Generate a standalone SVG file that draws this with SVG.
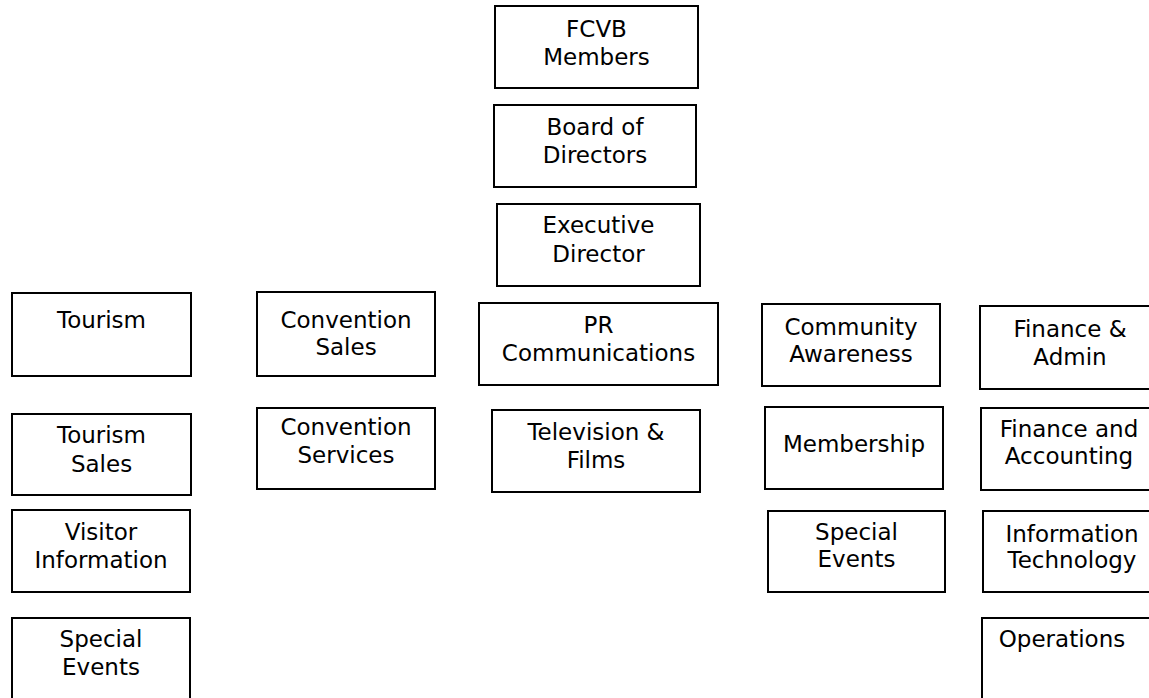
<svg xmlns="http://www.w3.org/2000/svg" width="1149" height="698" viewBox="0 0 1149 698">
<style>
.box{fill:#fff;stroke:#000;stroke-width:2}
.t{font-family:"DejaVu Sans","Liberation Sans",sans-serif;font-size:23px;fill:#000;text-anchor:middle}
</style>
<rect width="1149" height="698" fill="#fff"/>
<g id="connectors"></g>
<g id="fcvb"><rect class="box" x="495" y="6" width="203" height="82"/><text class="t" x="596.5" y="37">FCVB</text><text class="t" x="596.5" y="65">Members</text></g>
<g id="board"><rect class="box" x="494" y="105" width="202" height="82"/><text class="t" x="595" y="135">Board of</text><text class="t" x="595" y="163">Directors</text></g>
<g id="exec"><rect class="box" x="497" y="204" width="203" height="82"/><text class="t" x="598.5" y="233">Executive</text><text class="t" x="598.5" y="262">Director</text></g>
<g id="tourism"><rect class="box" x="12" y="293" width="179" height="83"/><text class="t" x="101.5" y="328">Tourism</text></g>
<g id="convsales"><rect class="box" x="257" y="292" width="178" height="84"/><text class="t" x="346" y="328">Convention</text><text class="t" x="346" y="355">Sales</text></g>
<g id="pr"><rect class="box" x="479" y="303" width="239" height="82"/><text class="t" x="598.5" y="333">PR</text><text class="t" x="598.5" y="361">Communications</text></g>
<g id="community"><rect class="box" x="762" y="304" width="178" height="82"/><text class="t" x="851" y="335">Community</text><text class="t" x="851" y="362">Awareness</text></g>
<g id="finadmin"><rect class="box" x="980" y="306" width="180" height="83"/><text class="t" x="1070" y="337">Finance &amp;</text><text class="t" x="1070" y="365">Admin</text></g>
<g id="toursales"><rect class="box" x="12" y="414" width="179" height="81"/><text class="t" x="101.5" y="443">Tourism</text><text class="t" x="101.5" y="472">Sales</text></g>
<g id="convserv"><rect class="box" x="257" y="408" width="178" height="81"/><text class="t" x="346" y="435">Convention</text><text class="t" x="346" y="463">Services</text></g>
<g id="tv"><rect class="box" x="492" y="410" width="208" height="82"/><text class="t" x="596" y="440">Television &amp;</text><text class="t" x="596" y="468">Films</text></g>
<g id="membership"><rect class="box" x="765" y="407" width="178" height="82"/><text class="t" x="854" y="452">Membership</text></g>
<g id="finacct"><rect class="box" x="981" y="408" width="180" height="82"/><text class="t" x="1069" y="437">Finance and</text><text class="t" x="1069" y="464">Accounting</text></g>
<g id="visitor"><rect class="box" x="12" y="510" width="178" height="82"/><text class="t" x="101" y="540">Visitor</text><text class="t" x="101" y="568">Information</text></g>
<g id="specialL"><rect class="box" x="12" y="618" width="178" height="100"/><text class="t" x="101" y="647">Special</text><text class="t" x="101" y="675">Events</text></g>
<g id="specialR"><rect class="box" x="768" y="511" width="177" height="81"/><text class="t" x="856.5" y="540">Special</text><text class="t" x="856.5" y="567">Events</text></g>
<g id="it"><rect class="box" x="983" y="511" width="180" height="81"/><text class="t" x="1072" y="542">Information</text><text class="t" x="1072" y="568">Technology</text></g>
<g id="operations"><rect class="box" x="982" y="618" width="180" height="100"/><text class="t" x="1062" y="647">Operations</text></g>
</svg>
